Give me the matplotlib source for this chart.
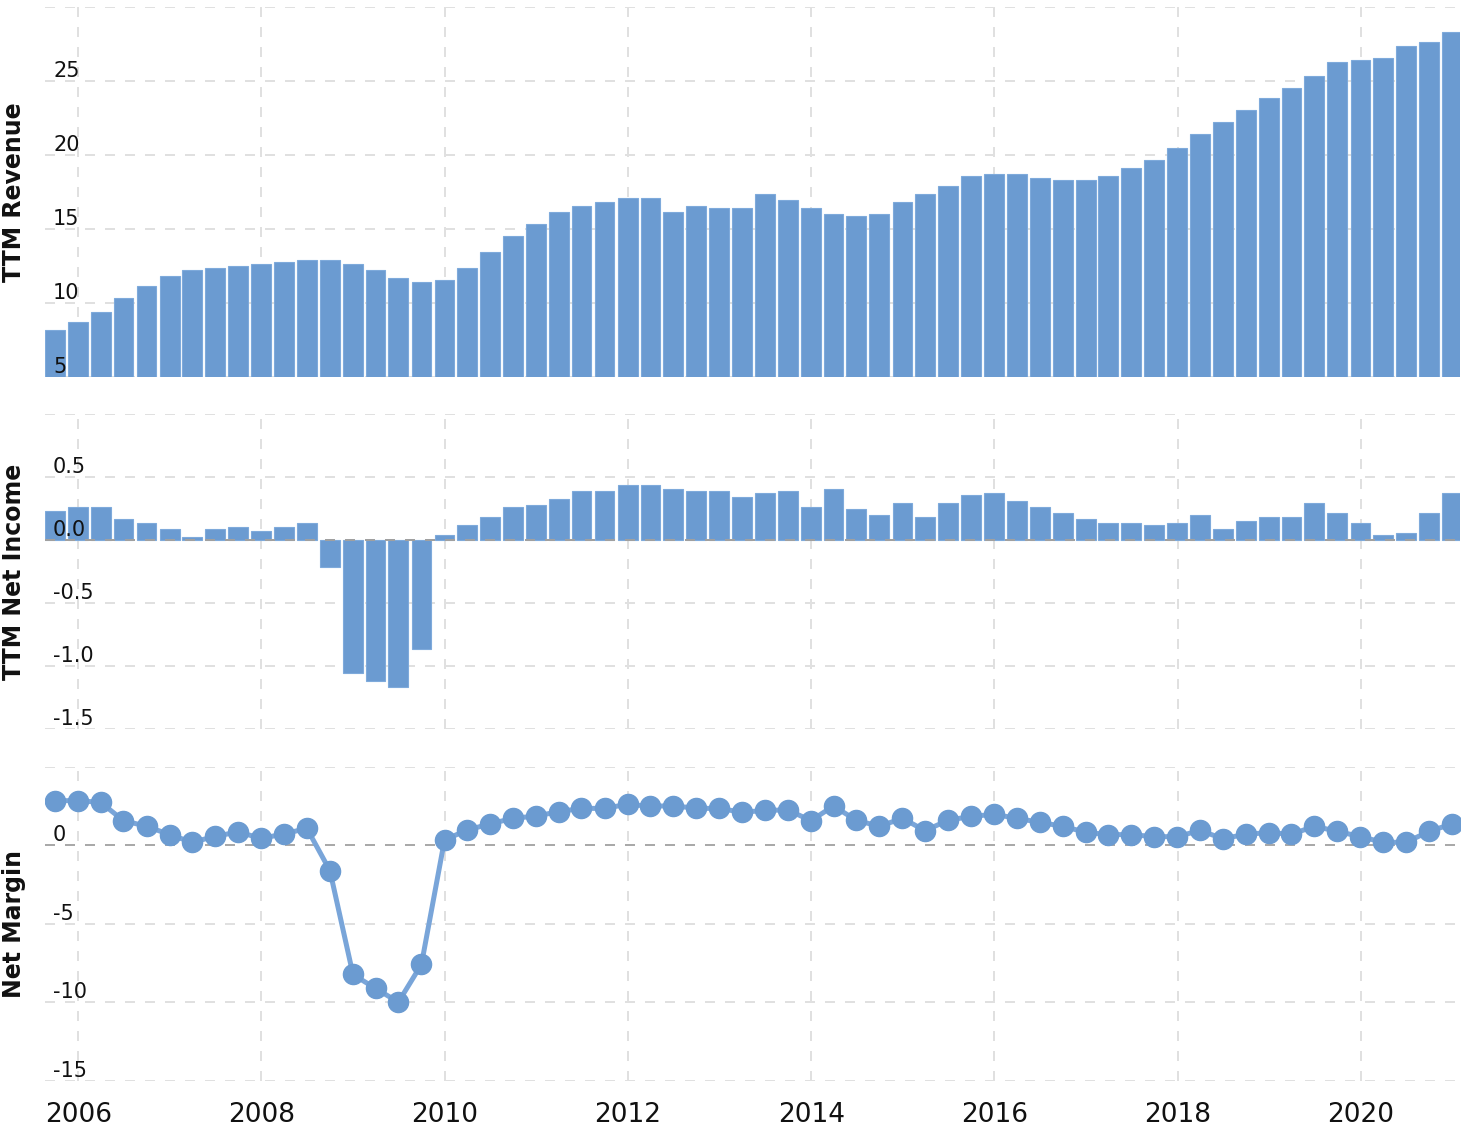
import numpy as np
import pandas as pd
import matplotlib
matplotlib.use("Agg")
import matplotlib.pyplot as plt
import matplotlib.dates as mdates

# quarter-end dates, 2005 Q3 .. 2020 Q4
dates = pd.date_range("2005-09-30", "2020-12-31", freq="QE")

revenue = [8.15, 8.69, 9.37, 10.32, 11.13, 11.80, 12.21, 12.34, 12.48, 12.61,
           12.75, 12.88, 12.88, 12.61, 12.21, 11.67, 11.40, 11.53, 12.34, 13.42,
           14.50, 15.32, 16.13, 16.53, 16.80, 17.07, 17.07, 16.13, 16.53, 16.40,
           16.40, 17.34, 16.94, 16.40, 15.99, 15.86, 15.99, 16.80, 17.34, 17.88,
           18.56, 18.69, 18.69, 18.42, 18.29, 18.29, 18.56, 19.10, 19.64, 20.45,
           21.40, 22.21, 23.02, 23.83, 24.50, 25.32, 26.26, 26.40, 26.53, 27.34,
           27.61, 28.29]

net_income = [0.23, 0.26, 0.26, 0.167, 0.135, 0.087, 0.024, 0.087, 0.103, 0.071,
              0.103, 0.135, -0.216, -1.053, -1.116, -1.164, -0.862, 0.040, 0.119, 0.183,
              0.26, 0.278, 0.325, 0.389, 0.389, 0.437, 0.437, 0.405, 0.389, 0.389,
              0.341, 0.373, 0.389, 0.262, 0.405, 0.246, 0.198, 0.294, 0.183, 0.294,
              0.357, 0.373, 0.310, 0.262, 0.214, 0.167, 0.135, 0.135, 0.119, 0.135,
              0.198, 0.087, 0.151, 0.183, 0.183, 0.294, 0.214, 0.135, 0.040, 0.056,
              0.214, 0.373]

net_margin = [2.84, 2.84, 2.73, 1.57, 1.21, 0.68, 0.19, 0.57, 0.85, 0.44,
              0.72, 1.08, -1.61, -8.22, -9.11, -9.98, -7.58, 0.34, 0.97, 1.36,
              1.72, 1.86, 2.14, 2.35, 2.35, 2.61, 2.48, 2.52, 2.35, 2.35,
              2.10, 2.22, 2.25, 1.57, 2.50, 1.59, 1.21, 1.72, 0.93, 1.59,
              1.84, 1.97, 1.72, 1.46, 1.21, 0.83, 0.68, 0.68, 0.55, 0.55,
              0.95, 0.42, 0.70, 0.81, 0.70, 1.21, 0.89, 0.55, 0.19, 0.19,
              0.89, 1.36]

rev_ticks = [5, 10, 15, 20, 25]
ni_ticks = [-1.5, -1.0, -0.5, 0.0, 0.5]
nm_ticks = [-15, -10, -5, 0]

BAR = "#6b9bd1"
GRID = "#e0e0e0"
plt.rcParams["font.family"] = ["DejaVu Sans"]

fig = plt.figure(figsize=(14.64, 11.28), dpi=100)
left, width = 45 / 1464, 1415 / 1464
ax1 = fig.add_axes([left, 0.6658, width, 0.3283])
ax2 = fig.add_axes([left, 0.3537, width, 0.2790], sharex=ax1)
ax3 = fig.add_axes([left, 0.04167, width, 0.2786], sharex=ax1)

bar_w = 79  # days

ax1.bar(dates, revenue, width=bar_w, color=BAR, edgecolor="#7eaadb", linewidth=0.8, zorder=2)
ax1.set_ylim(5, 30)
ax1.set_yticks(rev_ticks + [30])

ax2.bar(dates, net_income, width=bar_w, color=BAR, edgecolor="#7eaadb", linewidth=0.8, zorder=2)
ax2.axhline(0, color="#a0a0a0", lw=1.44, ls=(0, (5, 5)), zorder=3)
ax2.set_ylim(-1.5, 1.0)
ax2.set_yticks(ni_ticks + [1.0])

ax3.axhline(0, color="#a9a9a9", lw=1.44, ls=(0, (5, 5)), zorder=1)
ax3.plot(dates, net_margin, color="#79a5d9", lw=3.6, zorder=2)
ax3.plot(dates, net_margin, ls="none", marker="o", ms=14.5, color=BAR, zorder=3)
ax3.set_ylim(-15, 5)
ax3.set_yticks(nm_ticks + [5])

# value labels sit inside the plot, just above their grid line
labels = [(ax1, rev_ticks, "{:g}"), (ax2, ni_ticks, "{:.1f}"), (ax3, nm_ticks, "{:g}")]
for ax, ticks, fmt in labels:
    for v in ticks:
        ax.text(0.0057, v, fmt.format(v), transform=ax.get_yaxis_transform(),
                ha="left", va="bottom", fontsize=15, color="#111111", zorder=4)

for ax in (ax1, ax2, ax3):
    ax.grid(True, color=GRID, lw=1.44, ls=(0, (5, 5)), zorder=0)
    ax.set_axisbelow(True)
    for s in ax.spines.values():
        s.set_visible(False)
    ax.tick_params(axis="y", length=0, labelleft=False)
    ax.tick_params(axis="x", length=0)

ax1.set_xlim(pd.Timestamp("2005-08-21"), pd.Timestamp("2021-01-31"))
ax1.xaxis.set_major_locator(mdates.YearLocator(2))
ax1.xaxis.set_major_formatter(mdates.DateFormatter("%Y"))
plt.setp(ax1.get_xticklabels(), visible=False)
plt.setp(ax2.get_xticklabels(), visible=False)
ax3.tick_params(axis="x", labelsize=19, pad=15, labelcolor="#111111")

for ax, name in ((ax1, "TTM Revenue"), (ax2, "TTM Net Income"), (ax3, "Net Margin")):
    ax.set_ylabel(name, fontsize=17, fontweight="bold", color="#111111")
    ax.yaxis.set_label_coords(-0.0134, 0.5)

fig.savefig("out.png", dpi=100)
